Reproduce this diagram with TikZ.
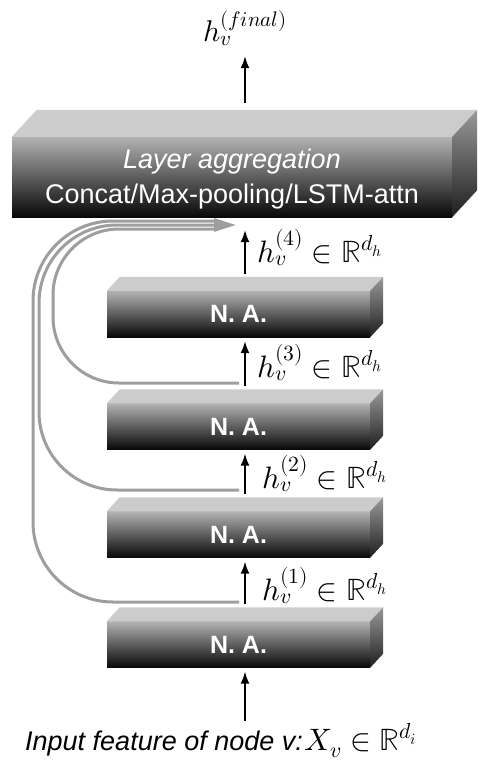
\documentclass[tikz,border=0pt]{standalone}
\usepackage{fontspec}
\usepackage{unicode-math}
\setmainfont{Liberation Sans}
\setmathfont{Latin Modern Math}
\usetikzlibrary{arrows.meta}
\begin{document}
\begin{tikzpicture}[x=1pt,y=-1pt,
  frontface/.style={inner sep=0pt,top color=black!30,middle color=black!62,bottom color=black!97,text=white},
  nabox/.style={frontface,minimum width=263pt,minimum height=46pt,font=\fontsize{25}{28}\selectfont\bfseries},
  aggbox/.style={frontface,minimum width=440pt,minimum height=80pt},
  topface/.style={fill=black!20},
  sideface/.style={top color=black!40,bottom color=black!88},
  blk/.style={-{Latex[length=12pt,width=9pt]},line width=1.5pt},
  gline/.style={draw=black!38,line width=3pt},
  mlab/.style={anchor=base west,inner sep=0pt,font=\fontsize{31}{36}\selectfont},
  aggtext/.style={text=white,inner sep=0pt,font=\fontsize{27}{32}\selectfont},
]
\useasboundingbox (0,0) rectangle (498,767);

% aggregation box
\node[aggbox] (agg) at (232,177) {};
\fill[topface] (agg.north west) -- ([shift={(25,-27)}]agg.north west) -- ([shift={(25,-27)}]agg.north east) -- (agg.north east) -- cycle;
\shade[sideface] (agg.north east) -- ([shift={(25,-27)}]agg.north east) -- ([shift={(25,-27)}]agg.south east) -- (agg.south east) -- cycle;
\node[aggtext] (aggA) at (232,162) {\itshape Layer aggregation};
\node[aggtext] (aggB) at (232,197) {Concat/Max-pooling/LSTM-attn};

% N.A. boxes
\foreach \n/\y in {1/644.5,2/534.5,3/426.5,4/314}{
  \node[nabox] (na\n) at (238.5,\y) {N. A.};
  \fill[topface] (na\n.north west) -- ([shift={(13,-14)}]na\n.north west) -- ([shift={(13,-14)}]na\n.north east) -- (na\n.north east) -- cycle;
  \shade[sideface] (na\n.north east) -- ([shift={(13,-14)}]na\n.north east) -- ([shift={(13,-14)}]na\n.south east) -- (na\n.south east) -- cycle;
}

\coordinate (ax) at (245,0);

% labels
\node[mlab,font=\fontsize{30}{35}\selectfont] (fin) at (203,42) {$h_v^{(final)}$};
\node[mlab] (l4) at (257,262) {$h_v^{(4)} \in \mathbb{R}^{d_h}$};
\node[mlab] (l3) at (257,377) {$h_v^{(3)} \in \mathbb{R}^{d_h}$};
\node[mlab] (l2) at (262,488) {$h_v^{(2)} \in \mathbb{R}^{d_h}$};
\node[mlab] (l1) at (262,600) {$h_v^{(1)} \in \mathbb{R}^{d_h}$};
\node[anchor=base west,inner sep=0pt,font=\fontsize{27}{32}\selectfont\itshape] (inp) at (25,750)
  {Input feature of node v:\kern2pt{\fontsize{31}{36}\selectfont$X_v \in \mathbb{R}^{d_i}$}};

% black arrows
\draw[blk] ([yshift=2pt]inp.north -| ax) -- ([yshift=-4pt]na1.south -| ax);
\draw[blk] ([yshift=17pt]na1.north -| ax) -- ([yshift=-4pt]na2.south -| ax);
\draw[blk] ([yshift=17pt]na2.north -| ax) -- ([yshift=-4pt]na3.south -| ax);
\draw[blk] ([yshift=17pt]na3.north -| ax) -- ([yshift=-4pt]na4.south -| ax);
\draw[blk] ([yshift=17pt]na4.north -| ax) -- ([yshift=-13pt]agg.south -| ax);
\draw[blk] ([yshift=34pt]agg.north -| ax) -- ([yshift=-10pt]fin.south -| ax);

% gray skip connectors
\coordinate (s1) at (239,602);
\coordinate (s2) at (239,490);
\coordinate (s3) at (239,383);
\coordinate (e1) at (214,221);
\coordinate (e2) at (236,225);
\coordinate (e3) at (214,229);
\draw[gline,rounded corners=80pt] (s1) -- (33,602) -- (33,221) -- (e1);
\draw[gline,rounded corners=66pt] (s3) -- (53,383) -- (53,229) -- (e3);
\draw[gline,rounded corners=78pt,-{Triangle[length=22pt,width=13pt]}] (s2) -- (39,490) -- (39,225) -- (e2);
\end{tikzpicture}
\end{document}
